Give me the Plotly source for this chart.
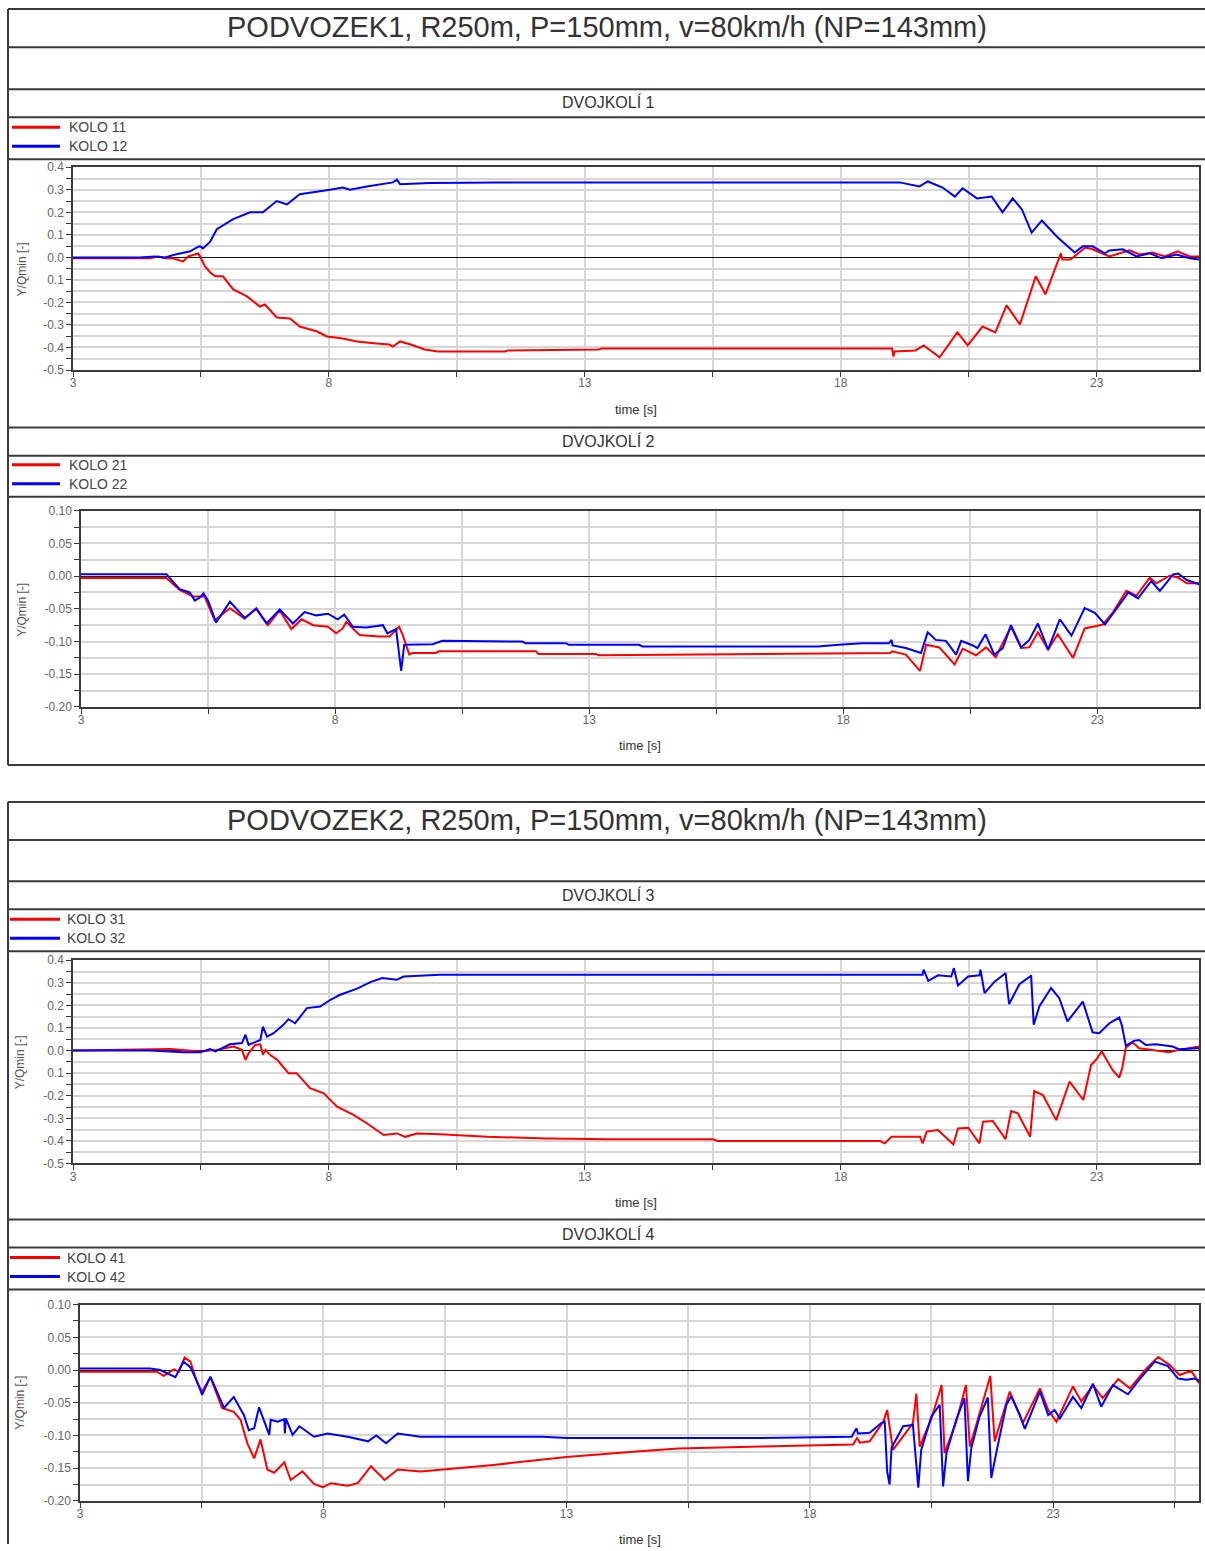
import plotly.graph_objects as go

W, H = 1205, 1551
FONT = "Liberation Sans, Arial, sans-serif"
RED, BLUE = "#ff0000", "#0000ff"
FRAME = "#3a3a3a"

# ---------------- data: Y/Qmin over time [s] ----------------
# DVOJKOLI 1
t11 = [3.0, 4.5, 4.67, 4.8, 4.95, 5.15, 5.25, 5.45, 5.48, 5.58, 5.68, 5.78, 5.93, 6.13, 6.4,
       6.65, 6.75, 6.98, 7.24, 7.43, 7.77, 7.96, 8.27, 8.55, 8.93, 9.18, 9.25, 9.39, 9.6, 9.87,
       10.13, 11.44, 11.5, 13.27, 13.33, 19.0, 19.03, 19.05, 19.46, 19.62, 19.93, 20.28, 20.48,
       20.77, 21.02, 21.24, 21.5, 21.81, 22.0, 22.3, 22.33, 22.49, 22.78, 22.92, 23.25, 23.64,
       23.84, 24.09, 24.33, 24.58, 24.82, 25.0]
y11 = [-0.004, -0.004, 0.004, -0.004, -0.004, -0.018, 0.004, 0.018, 0.005, -0.04, -0.067, -0.084,
       -0.084, -0.142, -0.173, -0.218, -0.209, -0.267, -0.271, -0.307, -0.329, -0.351, -0.36,
       -0.373, -0.382, -0.387, -0.396, -0.373, -0.387, -0.409, -0.418, -0.418, -0.413, -0.409,
       -0.404, -0.404, -0.44, -0.418, -0.413, -0.391, -0.444, -0.333, -0.391, -0.307, -0.333,
       -0.213, -0.298, -0.084, -0.164, 0.018, -0.009, -0.009, 0.044, 0.036, 0.004, 0.031, 0.013,
       0.022, 0.004, 0.027, 0.004, 0.004]
t12 = [3.0, 4.3, 4.6, 4.8, 5.0, 5.29, 5.42, 5.48, 5.54, 5.68, 5.81, 6.13, 6.46, 6.71, 6.98, 7.18,
       7.43, 7.77, 8.02, 8.27, 8.41, 8.74, 9.25, 9.33, 9.39, 9.97, 11.34, 19.15, 19.54, 19.7,
       19.99, 20.23, 20.38, 20.66, 20.95, 21.16, 21.36, 21.54, 21.73, 21.93, 22.22, 22.57, 22.73,
       22.92, 23.16, 23.25, 23.51, 23.78, 24.04, 24.27, 24.56, 24.82, 25.0]
y12 = [0.0, 0.0, 0.004, 0.0, 0.013, 0.027, 0.044, 0.05, 0.04, 0.07, 0.125, 0.17, 0.2, 0.2, 0.25,
       0.235, 0.28, 0.29, 0.3, 0.31, 0.3, 0.315, 0.333, 0.345, 0.325, 0.33, 0.333, 0.333, 0.315,
       0.337, 0.31, 0.27, 0.307, 0.262, 0.27, 0.2, 0.262, 0.213, 0.11, 0.164, 0.093, 0.022, 0.049,
       0.049, 0.018, 0.031, 0.036, 0.004, 0.018, -0.004, 0.013, -0.004, -0.009]

# DVOJKOLI 2
t21 = [3.0, 4.68, 4.94, 5.21, 5.43, 5.63, 5.93, 6.22, 6.45, 6.68, 6.91, 7.14, 7.34, 7.57, 7.86,
       8.02, 8.15, 8.22, 8.48, 8.87, 9.07, 9.26, 9.33, 9.46, 9.52, 9.98, 10.05, 11.95, 12.0, 13.13,
       13.19, 17.6, 18.93, 18.96, 19.23, 19.51, 19.63, 19.89, 20.19, 20.35, 20.61, 20.81, 21.0,
       21.3, 21.5, 21.66, 21.83, 22.03, 22.22, 22.52, 22.75, 22.91, 23.11, 23.31, 23.57, 23.77,
       24.03, 24.16, 24.43, 24.59, 24.76, 25.0]
y21 = [-0.003, -0.003, -0.021, -0.031, -0.031, -0.0675, -0.049, -0.065, -0.049, -0.075, -0.0525,
       -0.081, -0.066, -0.075, -0.0775, -0.0875, -0.08, -0.07, -0.09, -0.0925, -0.0925, -0.0775,
       -0.09, -0.12, -0.1175, -0.1175, -0.115, -0.115, -0.119, -0.119, -0.121, -0.119, -0.1175,
       -0.115, -0.12, -0.145, -0.105, -0.109, -0.135, -0.111, -0.121, -0.109, -0.124, -0.0775,
       -0.11, -0.109, -0.086, -0.1125, -0.089, -0.125, -0.08, -0.0775, -0.074, -0.055, -0.0225,
       -0.03, -0.0025, -0.011, 0.001, -0.0025, -0.011, -0.011]
t22 = [3.0, 4.68, 4.94, 5.14, 5.24, 5.34, 5.41, 5.5, 5.66, 5.93, 6.22, 6.45, 6.65, 6.91, 7.17,
       7.4, 7.63, 7.86, 8.05, 8.18, 8.35, 8.61, 8.94, 9.03, 9.2, 9.3, 9.36, 9.92, 10.11, 11.68,
       11.75, 12.54, 12.6, 13.98, 14.05, 17.5, 17.91, 18.37, 18.9, 18.95, 18.97, 19.23, 19.53,
       19.66, 19.82, 20.02, 20.22, 20.32, 20.55, 20.64, 20.8, 20.97, 21.14, 21.3, 21.5, 21.66,
       21.83, 22.03, 22.26, 22.49, 22.75, 22.95, 23.15, 23.38, 23.61, 23.8, 24.06, 24.23, 24.49,
       24.59, 24.76, 25.0]
y22 = [0.003, 0.003, -0.02, -0.025, -0.0375, -0.0325, -0.0265, -0.0375, -0.071, -0.039, -0.064,
       -0.05, -0.0725, -0.051, -0.0725, -0.055, -0.06, -0.0575, -0.066, -0.059, -0.0775, -0.0785,
       -0.075, -0.0875, -0.081, -0.145, -0.105, -0.104, -0.099, -0.1, -0.1025, -0.1025, -0.105,
       -0.105, -0.1075, -0.1075, -0.105, -0.1025, -0.1025, -0.0975, -0.106, -0.11, -0.1175,
       -0.086, -0.0975, -0.099, -0.12, -0.099, -0.106, -0.11, -0.089, -0.12, -0.11, -0.075,
       -0.109, -0.0975, -0.0725, -0.1125, -0.066, -0.091, -0.049, -0.056, -0.074, -0.05, -0.025,
       -0.034, -0.0075, -0.0225, 0.0025, 0.004, -0.006, -0.0125]

# DVOJKOLI 3
t31 = [3.0, 4.51, 4.9, 5.49, 5.81, 6.14, 6.3, 6.37, 6.43, 6.56, 6.66, 6.71, 6.76, 6.85, 6.99,
       7.21, 7.37, 7.63, 7.9, 8.06, 8.16, 8.48, 8.74, 9.07, 9.33, 9.49, 9.72, 10.17, 11.09, 12.26,
       13.49, 15.5, 15.6, 18.77, 18.86, 18.99, 19.55, 19.6, 19.68, 19.9, 20.2, 20.29, 20.49,
       20.71, 20.78, 20.97, 21.22, 21.33, 21.46, 21.7, 21.78, 21.95, 22.21, 22.47, 22.74, 22.89,
       22.99, 23.1, 23.31, 23.44, 23.5, 23.57, 23.7, 23.83, 24.09, 24.41, 24.61, 25.0]
y31 = [0.0, 0.003, 0.007, -0.004, 0.003, 0.018, 0.003, -0.041, -0.012, 0.025, 0.028, -0.019,
       0.003, -0.019, -0.041, -0.1, -0.1, -0.167, -0.189, -0.226, -0.248, -0.285, -0.322, -0.374,
       -0.367, -0.382, -0.367, -0.371, -0.382, -0.389, -0.393, -0.393, -0.4, -0.401, -0.411,
       -0.382, -0.382, -0.411, -0.359, -0.352, -0.416, -0.345, -0.342, -0.411, -0.315, -0.312,
       -0.392, -0.268, -0.278, -0.382, -0.179, -0.197, -0.308, -0.138, -0.219, -0.064, -0.041,
       -0.004, -0.086, -0.12, -0.078, 0.013, 0.037, 0.01, 0.003, -0.007, 0.003, 0.018]
t32 = [3.0, 4.5, 5.16, 5.49, 5.68, 5.78, 6.07, 6.3, 6.37, 6.43, 6.56, 6.66, 6.71, 6.79, 6.92,
       7.11, 7.21, 7.34, 7.57, 7.83, 8.03, 8.22, 8.55, 8.81, 9.04, 9.33, 9.46, 9.85, 10.17, 19.6,
       19.62, 19.71, 19.9, 20.16, 20.21, 20.29, 20.49, 20.71, 20.73, 20.81, 21.01, 21.2, 21.22,
       21.29, 21.49, 21.7, 21.72, 21.77, 21.88, 22.11, 22.27, 22.43, 22.73, 22.92, 23.05, 23.25,
       23.44, 23.49, 23.57, 23.73, 23.83, 23.96, 24.16, 24.48, 24.61, 25.0]
y32 = [0.0, 0.0, -0.007, -0.007, 0.007, -0.004, 0.028, 0.033, 0.07, 0.025, 0.037, 0.047, 0.106,
       0.062, 0.077, 0.114, 0.139, 0.121, 0.188, 0.195, 0.225, 0.247, 0.274, 0.303, 0.321, 0.314,
       0.328, 0.333, 0.336, 0.336, 0.358, 0.309, 0.333, 0.328, 0.365, 0.288, 0.328, 0.333, 0.358,
       0.254, 0.306, 0.339, 0.343, 0.206, 0.294, 0.328, 0.333, 0.114, 0.195, 0.277, 0.232, 0.129,
       0.217, 0.081, 0.077, 0.121, 0.146, 0.114, 0.022, 0.043, 0.047, 0.025, 0.028, 0.018, 0.006,
       0.01]

# DVOJKOLI 4
t41 = [3.0, 4.58, 4.72, 4.93, 5.03, 5.15, 5.27, 5.41, 5.51, 5.68, 5.92, 6.16, 6.3, 6.44, 6.58,
       6.71, 6.85, 6.99, 7.2, 7.33, 7.57, 7.81, 7.99, 8.16, 8.5, 8.71, 8.98, 9.26, 9.53, 10.0,
       11.5, 13.0, 14.5, 15.3, 17.0, 18.89, 18.97, 19.03, 19.23, 19.51, 19.59, 19.64, 19.71,
       19.99, 20.12, 20.19, 20.26, 20.5, 20.71, 20.77, 21.01, 21.21, 21.29, 21.49, 21.71, 21.8,
       22.11, 22.38, 22.73, 22.9, 23.07, 23.41, 23.58, 23.82, 24.02, 24.34, 24.58, 24.92, 25.16,
       25.4, 25.6, 25.84, 26.0]
y41 = [-0.0025, -0.0025, -0.009, 0.001, -0.0025, 0.019, 0.013, -0.02, -0.033, -0.011, -0.058,
       -0.064, -0.076, -0.112, -0.135, -0.106, -0.152, -0.157, -0.141, -0.168, -0.155, -0.174,
       -0.179, -0.173, -0.177, -0.173, -0.147, -0.168, -0.152, -0.155, -0.145, -0.133, -0.124,
       -0.12, -0.117, -0.114, -0.104, -0.111, -0.109, -0.079, -0.061, -0.086, -0.122, -0.094,
       -0.081, -0.036, -0.117, -0.074, -0.023, -0.127, -0.079, -0.023, -0.117, -0.066, -0.009,
       -0.109, -0.033, -0.081, -0.028, -0.061, -0.079, -0.025, -0.048, -0.023, -0.043, -0.014,
       -0.028, 0.0025, 0.02, 0.0076, -0.0076, -0.001, -0.02]
t42 = [3.0, 4.44, 4.65, 4.79, 4.96, 5.13, 5.27, 5.41, 5.51, 5.68, 5.82, 5.96, 6.16, 6.27, 6.37,
       6.47, 6.58, 6.68, 6.78, 6.89, 6.92, 7.06, 7.2, 7.21, 7.23, 7.37, 7.51, 7.81, 8.09, 8.5,
       8.92, 9.09, 9.29, 9.53, 10.0, 12.5, 13.0, 17.0, 18.86, 18.96, 18.99, 19.23, 19.47, 19.54,
       19.59, 19.64, 19.68, 19.92, 20.12, 20.23, 20.29, 20.5, 20.67, 20.74, 20.81, 21.01, 21.18,
       21.25, 21.32, 21.49, 21.66, 21.73, 21.84, 22.04, 22.14, 22.32, 22.42, 22.73, 22.9, 23.03,
       23.14, 23.41, 23.58, 23.82, 23.99, 24.23, 24.54, 24.78, 25.09, 25.36, 25.57, 25.74, 25.91,
       26.0]
y42 = [0.0025, 0.0025, 0.0, -0.005, -0.011, 0.013, 0.004, -0.018, -0.038, -0.01, -0.033, -0.058,
       -0.041, -0.056, -0.069, -0.092, -0.089, -0.057, -0.076, -0.099, -0.076, -0.079, -0.075,
       -0.097, -0.074, -0.099, -0.086, -0.102, -0.097, -0.102, -0.109, -0.1, -0.112, -0.097,
       -0.102, -0.102, -0.104, -0.104, -0.102, -0.089, -0.097, -0.096, -0.081, -0.079, -0.155,
       -0.175, -0.119, -0.086, -0.084, -0.18, -0.122, -0.071, -0.053, -0.178, -0.127, -0.076,
       -0.043, -0.17, -0.119, -0.071, -0.042, -0.165, -0.124, -0.053, -0.04, -0.069, -0.09,
       -0.033, -0.069, -0.061, -0.074, -0.041, -0.058, -0.021, -0.056, -0.023, -0.037, -0.014,
       0.013, 0.006, -0.013, -0.015, -0.013, -0.016]

# ---------------- labels ----------------
block_titles = ["PODVOZEK1, R250m, P=150mm, v=80km/h (NP=143mm)",
                "PODVOZEK2, R250m, P=150mm, v=80km/h (NP=143mm)"]
panel_titles = ["DVOJKOLÍ 1", "DVOJKOLÍ 2", "DVOJKOLÍ 3", "DVOJKOLÍ 4"]
legend_names = [("KOLO 11", "KOLO 12"), ("KOLO 21", "KOLO 22"),
                ("KOLO 31", "KOLO 32"), ("KOLO 41", "KOLO 42")]
x_title = "time [s]"
y_title = "Y/Qmin [-]"

# y tick labels for the two axis scales
wide_vals = [-0.5, -0.4, -0.3, -0.2, -0.1, 0.0, 0.1, 0.2, 0.3, 0.4]
wide_text = ["-0.5", "-0.4", "-0.3", "-0.2", "0.1", "0.0", "0.1", "0.2", "0.3", "0.4"]
narrow_vals = [-0.20, -0.15, -0.10, -0.05, 0.00, 0.05, 0.10]
narrow_text = ["-0.20", "-0.15", "-0.10", "-0.05", "0.00", "0.05", "0.10"]

series = [(t11, y11, t12, y12), (t21, y21, t22, y22), (t31, y31, t32, y32), (t41, y41, t42, y42)]
for a, b, c, d in series:
    assert len(a) == len(b) and len(c) == len(d)


# ---------------- page geometry ----------------
# Layout positions are given in page pixels; the figure sits slightly below the
# page top and is shown a little compressed vertically, so the page pixels are
# mapped back to figure pixels before turning them into paper fractions.
OX, SX = 3.0, 0.9975
OY, SY = 7.9, 0.9898


def fx(x):
    return min(max(((x - OX) / SX) / W, 0.0), 1.0)


def fy(y):
    return min(max(1 - ((y - OY) / SY) / H, 0.0), 1.0)


panels = [
    dict(box=(73, 1199, 168, 370.5), xr=(3, 25), wide=True, title_y=103, leg_y=(128, 147),
         xt_y=410, yt=(22, 270), leg_x=(12, 60, 67)),
    dict(box=(81, 1199, 511, 707), xr=(3, 25), wide=False, title_y=441, leg_y=(465, 484),
         xt_y=746, yt=(22, 610), leg_x=(12, 60, 67)),
    dict(box=(73, 1199, 960, 1163), xr=(3, 25), wide=True, title_y=895, leg_y=(919, 938),
         xt_y=1202, yt=(20, 1062), leg_x=(10, 60, 65)),
    dict(box=(80, 1199, 1304, 1500), xr=(3, 26), wide=False, title_y=1233, leg_y=(1257, 1276),
         xt_y=1539, yt=(20, 1402), leg_x=(10, 60, 65)),
]

fig = go.Figure()
shapes, annotations = [], []
layout = dict(width=W, height=H, margin=dict(l=0, r=0, t=0, b=0),
              paper_bgcolor="white", plot_bgcolor="white", showlegend=False,
              font=dict(family=FONT, color="#444"))

tick_font = dict(family=FONT, size=12, color="#666")

for i, (p, (ta, ya, tb, yb)) in enumerate(zip(panels, series)):
    n = "" if i == 0 else str(i + 1)
    l, r, top, bot = p["box"]
    x0, x1 = p["xr"]
    xv = [x0 + 2.5 * k for k in range(int((x1 - x0) / 2.5) + 1)]
    xt = [str(int(v)) if abs((v - 3) % 5) < 1e-9 else "" for v in xv]
    if p["wide"]:
        yr = (-0.5, 0.4)
        yv = [round(-0.5 + 0.05 * k, 3) for k in range(19)]
        lab = dict(zip(wide_vals, wide_text))
    else:
        yr = (-0.2, 0.1)
        yv = [round(-0.2 + 0.025 * k, 4) for k in range(13)]
        lab = dict(zip(narrow_vals, narrow_text))
    ytx = [lab.get(round(v, 3), "") for v in yv]

    layout["xaxis" + n] = dict(
        domain=[fx(l), fx(r)], range=[x0, x1], anchor="y" + n,
        tickmode="array", tickvals=xv, ticktext=xt, ticks="outside", ticklen=5,
        ticklabelstandoff=-4,
        tickcolor=FRAME, tickfont=tick_font, showgrid=True, gridcolor="#d6d6d6",
        gridwidth=1.5, showline=True, linecolor=FRAME, linewidth=1.5, mirror=True,
        zeroline=False, fixedrange=True)
    layout["yaxis" + n] = dict(
        domain=[fy(bot), fy(top)], range=list(yr), anchor="x" + n,
        tickmode="array", tickvals=yv, ticktext=ytx, ticks="outside", ticklen=5,
        tickcolor=FRAME, tickfont=tick_font, showgrid=True, gridcolor="#d6d6d6",
        gridwidth=1.5, showline=True, linecolor=FRAME, linewidth=1.5, mirror=True,
        zeroline=True, zerolinecolor="#111", zerolinewidth=1.3, fixedrange=True)

    for tt, yy, col, name in ((ta, ya, RED, legend_names[i][0]), (tb, yb, BLUE, legend_names[i][1])):
        fig.add_trace(go.Scatter(x=tt, y=yy, mode="lines", name=name,
                                 line=dict(color=col, width=2),
                                 xaxis="x" + n, yaxis="y" + n))

    # panel heading
    annotations.append(dict(text=panel_titles[i], x=fx(608), y=fy(p["title_y"]),
                            xref="paper", yref="paper", showarrow=False,
                            xanchor="center", yanchor="middle",
                            font=dict(family=FONT, size=16, color="#333")))
    # legend rows
    lx0, lx1, tx = p["leg_x"]
    for yy, col, name in zip(p["leg_y"], (RED, BLUE), legend_names[i]):
        shapes.append(dict(type="line", xref="paper", yref="paper",
                           x0=fx(lx0), x1=fx(lx1), y0=fy(yy), y1=fy(yy),
                           line=dict(color=col, width=3)))
        annotations.append(dict(text=name, x=fx(tx), y=fy(yy), xref="paper", yref="paper",
                                showarrow=False, xanchor="left", yanchor="middle",
                                font=dict(family=FONT, size=14, color="#444")))
    # axis titles
    annotations.append(dict(text=x_title, x=fx((l + r) / 2), y=fy(p["xt_y"]),
                            xref="paper", yref="paper", showarrow=False,
                            xanchor="center", yanchor="middle",
                            font=dict(family=FONT, size=13, color="#333")))
    annotations.append(dict(text=y_title, x=fx(p["yt"][0]), y=fy(p["yt"][1]),
                            xref="paper", yref="paper", showarrow=False, textangle=-90,
                            xanchor="center", yanchor="middle",
                            font=dict(family=FONT, size=12, color="#555")))

# block titles
for txt, yy in zip(block_titles, (28, 820)):
    annotations.append(dict(text=txt, x=fx(607), y=fy(yy), xref="paper", yref="paper",
                            showarrow=False, xanchor="center", yanchor="middle",
                            font=dict(family=FONT, size=29, color="#333")))

# frame rules of the two report blocks
rules = [(10, 48, 90, 118, 160, 428, 456, 497, 765, (10, 765)),
         (802, 840, 881, 909, 951, 1219, 1247, 1289, None, (802, 1560))]
for block in rules:
    *rows, (v0, v1) = block
    for yy in rows:
        if yy is None:
            continue
        shapes.append(dict(type="line", xref="paper", yref="paper",
                           x0=fx(8), x1=1, y0=fy(yy), y1=fy(yy),
                           line=dict(color=FRAME, width=2)))
    shapes.append(dict(type="line", xref="paper", yref="paper",
                       x0=fx(8), x1=fx(8), y0=fy(v0), y1=fy(v1),
                       line=dict(color=FRAME, width=2)))

layout["shapes"] = shapes
layout["annotations"] = annotations
fig.update_layout(**layout)
fig.write_html("out.html")
